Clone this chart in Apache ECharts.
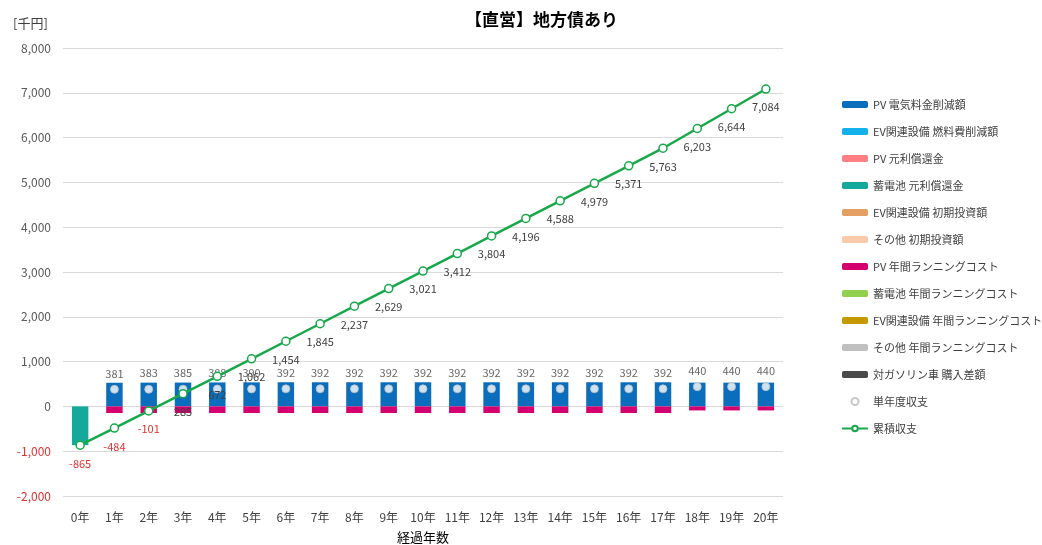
<!DOCTYPE html>
<html>
<head>
<meta charset="utf-8">
<script src="https://cdn.jsdelivr.net/npm/echarts@6/dist/echarts.min.js"></script>
<style>
  html, body { margin: 0; padding: 0; background: #fff; }
  #main { width: 1042px; height: 545px; }
</style>
</head>
<body>
<div id="main"></div>
<script>
// 経過年数
const years = ['0年','1年','2年','3年','4年','5年','6年','7年','8年','9年','10年',
  '11年','12年','13年','14年','15年','16年','17年','18年','19年','20年']

// 棒グラフ（千円）
const pvSaving     = [0,528,530,532,535,537,539,539,539,539,539,539,539,539,539,539,539,539,530,530,530]
const evFuelSaving = [0,0,0,0,0,0,0,0,0,0,0,0,0,0,0,0,0,0,0,0,0]
const pvRepay      = [0,0,0,0,0,0,0,0,0,0,0,0,0,0,0,0,0,0,0,0,0]
const batRepay     = [-865,0,0,0,0,0,0,0,0,0,0,0,0,0,0,0,0,0,0,0,0]
const evInit       = [0,0,0,0,0,0,0,0,0,0,0,0,0,0,0,0,0,0,0,0,0]
const otherInit    = [0,0,0,0,0,0,0,0,0,0,0,0,0,0,0,0,0,0,0,0,0]
const pvRunning    = [0,-147,-147,-147,-147,-147,-147,-147,-147,-147,-147,-147,-147,-147,-147,-147,-147,-147,-90,-90,-90]
const batRunning   = [0,0,0,0,0,0,0,0,0,0,0,0,0,0,0,0,0,0,0,0,0]
const evRunning    = [0,0,0,0,0,0,0,0,0,0,0,0,0,0,0,0,0,0,0,0,0]
const otherRunning = [0,0,0,0,0,0,0,0,0,0,0,0,0,0,0,0,0,0,0,0,0]
const gasDiff      = [0,0,0,0,0,0,0,0,0,0,0,0,0,0,0,0,0,0,0,0,0]

// 単年度収支・累積収支
const yearBalance = [-865,381,383,385,388,390,392,392,392,392,392,392,392,392,392,392,392,392,440,440,440]
const cumBalance  = [-865,-484,-101,285,672,1062,1454,1845,2237,2629,3021,3412,3804,4196,4588,4979,5371,5763,6203,6644,7084]

const font = '"Noto Sans CJK JP", sans-serif'
const fmt = v => Number(v).toLocaleString('en-US')

function bar(name, color, data) {
  return {
    name: name,
    type: 'bar',
    stack: 'total',
    barWidth: '48%',
    itemStyle: { color: color },
    data: data
  }
}

const chart = echarts.init(document.getElementById('main'))
chart.setOption({
  animation: false,
  textStyle: { fontFamily: font },
  title: [{
    text: '【直営】地方債あり',
    left: 460,
    top: 6,
    textStyle: { fontSize: 17, fontWeight: 'bold', color: '#000', fontFamily: font }
  }, {
    text: '[千円]',
    left: 8,
    top: 12,
    textStyle: { fontSize: 13, fontWeight: 'normal', color: '#404040', fontFamily: font }
  }],
  legend: {
    orient: 'vertical',
    left: 836,
    top: 94,
    itemWidth: 26,
    itemHeight: 7,
    itemGap: 16,
    textStyle: { fontSize: 11, color: '#404040', fontFamily: font },
    data: [
      'PV 電気料金削減額', 'EV関連設備 燃料費削減額', 'PV 元利償還金', '蓄電池 元利償還金',
      'EV関連設備 初期投資額', 'その他 初期投資額', 'PV 年間ランニングコスト',
      '蓄電池 年間ランニングコスト', 'EV関連設備 年間ランニングコスト',
      'その他 年間ランニングコスト', '対ガソリン車 購入差額', '単年度収支', '累積収支'
    ]
  },
  grid: { left: 63, right: 259, top: 48, bottom: 49, outerBoundsMode: 'none' },
  xAxis: {
    type: 'category',
    data: years,
    name: '経過年数',
    nameLocation: 'middle',
    nameGap: 35,
    nameTextStyle: { fontSize: 13, color: '#000', fontFamily: font },
    axisLine: { show: false },
    axisTick: { show: false },
    axisLabel: { color: '#404040', fontSize: 12, margin: 15, interval: 0 }
  },
  yAxis: {
    type: 'value',
    min: -2000,
    max: 8000,
    interval: 1000,
    axisLine: { show: false },
    axisTick: { show: false },
    splitLine: { lineStyle: { color: '#d9d9d9', width: 1 } },
    axisLabel: {
      margin: 12,
      formatter: v => v < 0 ? '{neg|' + fmt(v) + '}' : '{pos|' + fmt(v) + '}',
      rich: {
        neg: { color: '#e03030', fontSize: 12, fontFamily: font },
        pos: { color: '#595959', fontSize: 12, fontFamily: font }
      }
    }
  },
  series: [
    bar('PV 電気料金削減額', '#0a6ebd', pvSaving),
    bar('EV関連設備 燃料費削減額', '#13b1ec', evFuelSaving),
    bar('PV 元利償還金', '#ff7f84', pvRepay),
    bar('蓄電池 元利償還金', '#15a99b', batRepay),
    bar('EV関連設備 初期投資額', '#e3a062', evInit),
    bar('その他 初期投資額', '#f9cbab', otherInit),
    bar('PV 年間ランニングコスト', '#d5006f', pvRunning),
    bar('蓄電池 年間ランニングコスト', '#92d050', batRunning),
    bar('EV関連設備 年間ランニングコスト', '#c49a00', evRunning),
    bar('その他 年間ランニングコスト', '#c0c0c0', otherRunning),
    bar('対ガソリン車 購入差額', '#4a4a4a', gasDiff),
    {
      name: '単年度収支',
      type: 'scatter',
      symbolSize: 8,
      z: 4,
      itemStyle: { color: '#fff', borderColor: '#bbbbbb', borderWidth: 1 },
      label: {
        show: true,
        position: 'top',
        distance: 6,
        fontSize: 11,
        color: '#404040',
        formatter: p => p.dataIndex === 0 ? '' : fmt(p.value)
      },
      data: yearBalance
    },
    {
      name: '累積収支',
      type: 'line',
      z: 5,
      symbol: 'circle',
      symbolSize: 8,
      lineStyle: { color: '#17a84a', width: 2.5 },
      itemStyle: { color: '#fff', borderColor: '#17a84a', borderWidth: 1.5 },
      label: {
        show: true,
        position: 'bottom',
        distance: 8,
        fontSize: 11,
        formatter: p => p.value < 0 ? '{neg|' + fmt(p.value) + '}' : '{pos|' + fmt(p.value) + '}',
        rich: {
          neg: { color: '#e03030', fontSize: 11 },
          pos: { color: '#404040', fontSize: 11 }
        }
      },
      data: cumBalance
    }
  ]
})
</script>
</body>
</html>
